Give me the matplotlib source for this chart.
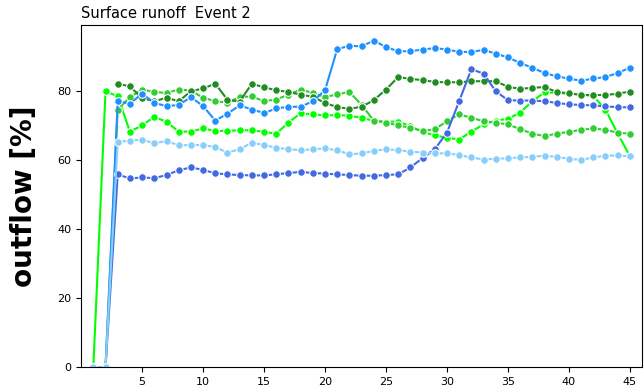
import matplotlib
matplotlib.use("Agg")
import matplotlib.pyplot as plt
import numpy as np

nan = np.nan

# time step index
step = np.arange(1, 46)

# outflow [%] per series
light_blue = [0, 0, 65.4, 65.6, 66.0, 64.9, 65.6, 64.3, 64.4, 64.4, 63.8,
              62.2, 63.2, 65.1, 64.4, 63.6, 63.2, 62.9, 63.2, 63.4, 62.9, 61.7, 62.0,
              62.7, 63.2, 62.9, 62.5, 62.2, 62.0, 62.0, 61.5, 60.8, 60.2, 60.4,
              60.6, 60.8, 61.0, 61.3, 61.0, 60.4, 60.1, 60.8, 61.3, 61.4, 61.1]
royal_blue = [0, 0, 55.9, 54.7, 55.0, 54.8, 55.7, 57.1, 57.9, 57.2, 56.2,
              55.9, 55.7, 55.6, 55.6, 55.9, 56.3, 56.6, 56.3, 56.1, 55.9, 55.7, 55.5,
              55.5, 55.7, 55.9, 57.9, 60.6, 63.2, 68.0, 77.1, 86.4, 85.1, 80.0,
              77.4, 77.3, 77.3, 77.1, 76.6, 76.2, 76.0, 75.9, 75.6, 75.4, 75.3]
dodger_blue = [0, 0, 77.1, 76.4, 79.3, 76.6, 75.7, 76.0, 78.3, 75.7, 71.5,
               73.5, 75.9, 74.7, 73.7, 75.0, 75.5, 75.5, 77.1, 80.3, 92.2, 93.2, 93.0,
               94.7, 92.8, 91.6, 91.6, 92.1, 92.5, 92.1, 91.4, 91.4, 92.0, 90.9,
               89.8, 88.2, 86.8, 85.3, 84.3, 83.7, 83.0, 83.7, 84.1, 85.3, 86.8]
dark_green = [nan, nan, 82.2, 81.4, 78.0, 77.1, 78.1, 77.1, 80.0, 80.8, 82.2,
              77.5, 77.0, 82.2, 81.1, 80.3, 79.8, 79.0, 78.4, 76.6, 75.4, 74.9, 75.5,
              77.4, 80.5, 84.1, 83.6, 83.2, 82.7, 82.6, 82.6, 82.9, 82.9, 82.9,
              81.3, 80.7, 81.0, 81.2, 79.8, 79.4, 78.9, 78.9, 78.9, 79.3, 79.9]
mid_green = [0, 0, 74.7, 78.3, 80.5, 79.8, 79.5, 80.5, 80.2, 78.1, 77.1,
             76.7, 78.3, 78.5, 77.1, 77.6, 79.0, 80.5, 79.5, 78.3, 79.1, 79.8, 76.0,
             71.5, 70.9, 70.1, 69.4, 68.5, 69.0, 71.3, 73.3, 72.3, 71.3, 70.9,
             70.4, 69.0, 67.7, 67.0, 67.7, 68.2, 68.8, 69.2, 68.8, 68.0, 67.7]
bright_green = [0, 80.0, 78.5, 68.3, 70.1, 72.6, 71.1, 68.3, 68.3, 69.2, 68.5,
                68.5, 68.7, 68.7, 68.2, 67.7, 70.9, 73.6, 73.3, 73.0, 73.1, 72.9, 72.3,
                71.4, 71.2, 71.2, 69.9, 68.2, 67.2, 66.5, 66.0, 68.3, 70.4, 71.5,
                72.0, 73.8, 77.1, 79.7, 79.5, 79.3, 79.1, 78.6, 74.7, 67.7, 61.2]

series = [
    (bright_green, "lime"),
    (mid_green, "limegreen"),
    (dark_green, "forestgreen"),
    (dodger_blue, "dodgerblue"),
    (royal_blue, "royalblue"),
    (light_blue, "lightskyblue"),
]

fig = plt.figure(figsize=(6.44, 3.91), dpi=100)
ax = fig.add_axes([0.126, 0.061, 0.871, 0.875])

for values, color in series:
    ax.plot(step, values, color=color, lw=1.5, marker="o", ms=5.5,
            mec="white", mew=0.8)

ax.set_xlim(0.0, 46.0)
ax.set_ylim(0, 99.2)
ax.set_xticks(np.arange(5, 50, 5))
ax.set_yticks(np.arange(0, 100, 20))
ax.tick_params(labelsize=8)
ax.set_ylabel("outflow [%]", fontsize=20, fontweight="bold", labelpad=14)
ax.set_title("Surface runoff  Event 2", loc="left", fontsize=10.5, pad=5)

fig.savefig("out.png", dpi=100)
